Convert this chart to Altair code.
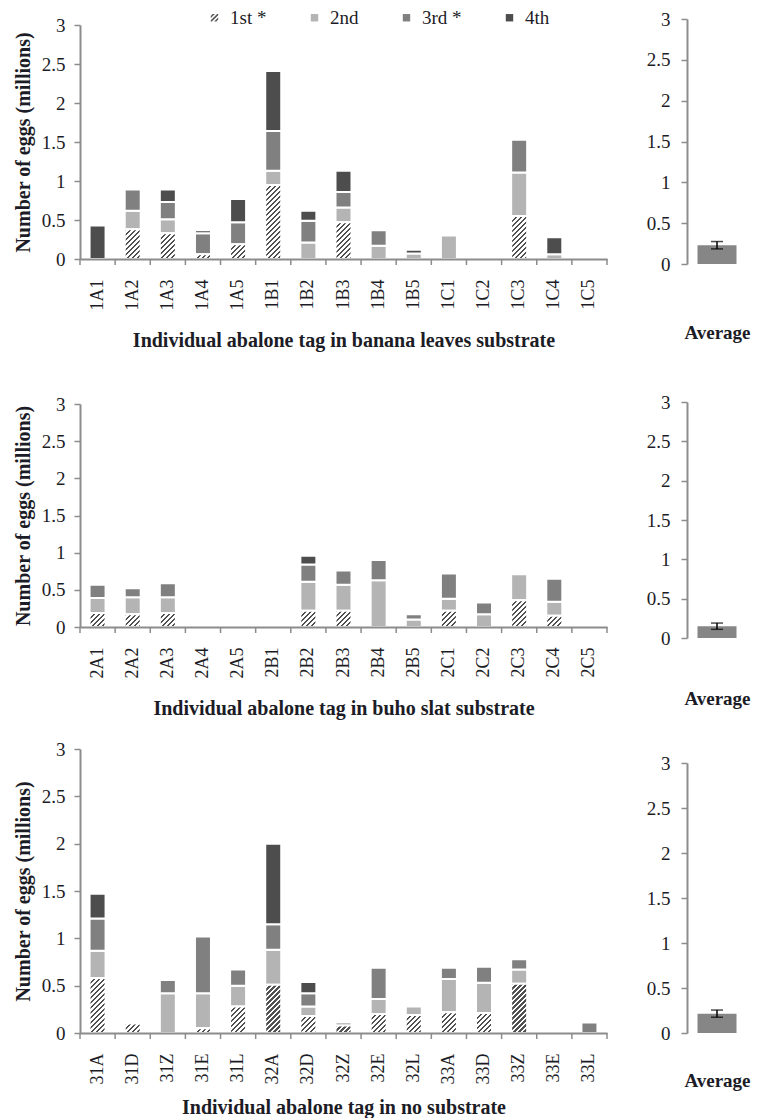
import altair as alt
import pandas as pd

# ---------------- data ----------------
SERIES = ["1st *", "2nd", "3rd *", "4th"]
SERIES_COLORS = ["#555555", "#b4b4b4", "#808080", "#4d4d4d"]

tags_banana = ["1A1", "1A2", "1A3", "1A4", "1A5", "1B1", "1B2", "1B3", "1B4", "1B5",
               "1C1", "1C2", "1C3", "1C4", "1C5"]
first_banana = [0, 0.38, 0.33, 0.06, 0.19, 0.95, 0, 0.47, 0, 0, 0, 0, 0.55, 0, 0]
second_banana = [0, 0.24, 0.18, 0, 0, 0.18, 0.21, 0.19, 0.17, 0.07, 0.30, 0, 0.56, 0.06, 0]
third_banana = [0, 0.27, 0.22, 0.27, 0.28, 0.51, 0.28, 0.20, 0.20, 0, 0, 0, 0.42, 0, 0]
fourth_banana = [0.43, 0, 0.16, 0.04, 0.30, 0.77, 0.13, 0.27, 0, 0.05, 0, 0, 0, 0.22, 0]

tags_buho = ["2A1", "2A2", "2A3", "2A4", "2A5", "2B1", "2B2", "2B3", "2B4", "2B5",
             "2C1", "2C2", "2C3", "2C4", "2C5"]
first_buho = [0.19, 0.17, 0.19, 0, 0, 0, 0.22, 0.22, 0, 0, 0.22, 0, 0.36, 0.15, 0]
second_buho = [0.20, 0.23, 0.21, 0, 0, 0, 0.39, 0.35, 0.63, 0.10, 0.16, 0.17, 0.35, 0.19, 0]
third_buho = [0.18, 0.12, 0.19, 0, 0, 0, 0.23, 0.19, 0.27, 0.07, 0.34, 0.16, 0, 0.31, 0]
fourth_buho = [0, 0, 0, 0, 0, 0, 0.12, 0, 0, 0, 0, 0, 0, 0, 0]

tags_none = ["31A", "31D", "31Z", "31E", "31L", "32A", "32D", "32Z", "32E", "32L",
             "33A", "33D", "33Z", "33E", "33L"]
first_none = [0.58, 0.10, 0, 0.05, 0.28, 0.51, 0.18, 0.08, 0.20, 0.19, 0.22, 0.21, 0.52, 0, 0]
second_none = [0.29, 0, 0.42, 0.37, 0.22, 0.37, 0.10, 0, 0.16, 0.09, 0.35, 0.32, 0.15, 0, 0]
third_none = [0.34, 0, 0.14, 0.60, 0.17, 0.27, 0.14, 0.03, 0.33, 0, 0.12, 0.17, 0.11, 0, 0.11]
fourth_none = [0.26, 0, 0, 0, 0, 0.85, 0.12, 0, 0, 0, 0, 0, 0, 0, 0]

AVG_LABEL = "Average"
avg_mean = [0.23, 0.15, 0.215]
avg_err = [0.045, 0.04, 0.04]

x_titles = ["Individual abalone tag in banana leaves substrate",
            "Individual abalone tag in buho slat substrate",
            "Individual abalone tag in no substrate"]
Y_TITLE = "Number of eggs (millions)"
Y_TICKS = [0, 0.5, 1, 1.5, 2, 2.5, 3]

# ---------------- style ----------------
FONT = "Liberation Serif"
TXT = "#1c1c26"
AX = "#8c8c8c"
AVG_COLOR = "#868686"
PLOT_W = 527
BAR_W = 16
HATCH_PATH = ("M-1,-0.5L-0.5,-1L0.1,-1L-1,0.1Z "
              "M-1,0.7L0.7,-1L1,-1L1,-0.7L-0.7,1L-1,1Z "
              "M-0.1,1L1,-0.1L1,0.5L0.5,1Z")


def stacked(tags, values):
    rows = []
    for i, t in enumerate(tags):
        base = 0.0
        for s, vals in zip(SERIES, values):
            v = vals[i]
            if v > 0:
                rows.append({"tag": t, "series": s, "value": v,
                             "y0": base, "y1": base + v})
                base += v
    return pd.DataFrame(rows)


def hatch(w, h, period=5.0, frac=0.42, dark="#505050", light="#ffffff"):
    """45-degree stripes as a linear gradient in bounding-box units."""
    n = (w + h) / period
    p = 1.0 / n
    stops = []
    k = 0
    while k * p < 1:
        a = k * p
        b = min(a + frac * p, 1.0)
        c = min((k + 1) * p, 1.0)
        stops += [{"offset": round(a, 5), "color": dark},
                  {"offset": round(b, 5), "color": dark},
                  {"offset": round(b, 5), "color": light},
                  {"offset": round(c, 5), "color": light}]
        k += 1
    d = w * w + h * h
    return {"gradient": "linear", "x1": 0, "y1": 0,
            "x2": round(w * (w + h) / d, 5), "y2": round(h * (w + h) / d, 5),
            "stops": stops}


def main_panel(tags, values, height, x_title, title_pad, show_legend):
    df = stacked(tags, values)
    xscale = alt.Scale(domain=tags, paddingInner=0, paddingOuter=0)
    xaxis = alt.Axis(title=x_title, labelAngle=-90, labelFontSize=18,
                     labelPadding=20, ticks=False, zindex=1,
                     titlePadding=title_pad)
    x = alt.X("tag:N", sort=tags, scale=xscale, axis=xaxis)
    yscale = alt.Scale(domain=[0, 3], nice=False)
    yaxis = alt.Axis(values=Y_TICKS, format="~g", title=Y_TITLE,
                     labelPadding=9, titlePadding=8, zindex=1)
    y = alt.Y("y1:Q", scale=yscale, axis=yaxis)
    y2 = alt.Y2("y0:Q")
    if show_legend:
        legend = alt.Legend(
            title=None, orient="none", legendX=125, legendY=-17,
            direction="horizontal", padding=0,
            symbolType={"expr": "datum.value === '1st *' ? '" + HATCH_PATH + "' : 'square'"},
            symbolSize=55, symbolStrokeWidth=0,
            labelFont=FONT, labelFontSize=19, labelColor=TXT,
            labelOffset=6, columnPadding=38)
    else:
        legend = None
    base = alt.Chart(df).transform_filter(
        alt.datum.series != SERIES[0]
    ).mark_bar(size=BAR_W, stroke="white", strokeWidth=2).encode(
        x=x, y=y, y2=y2,
        color=alt.Color("series:N",
                        scale=alt.Scale(domain=SERIES, range=SERIES_COLORS),
                        legend=legend))
    layers = [base]
    for _, r in df[df.series == SERIES[0]].iterrows():
        px_h = r["value"] * height / 3.0
        layers.append(
            alt.Chart(df).transform_filter(
                (alt.datum.tag == r["tag"]) & (alt.datum.series == SERIES[0])
            ).mark_bar(size=BAR_W, stroke="white", strokeWidth=2,
                       fill=hatch(BAR_W, px_h)).encode(x=x, y=y, y2=y2))
    # category separator ticks below the baseline (band edges)
    tick_df = pd.DataFrame({"tag": tags, "zero": [0] * len(tags)})
    for pos, src in ((0, tick_df), (1, tick_df.tail(1))):
        layers.append(
            alt.Chart(src).mark_rule(color=AX, strokeWidth=1.5, y2Offset=6).encode(
                x=alt.X("tag:N", sort=tags, scale=xscale, axis=xaxis,
                        bandPosition=pos),
                y=alt.Y("zero:Q", scale=yscale, axis=yaxis),
                y2=alt.Y2("zero:Q")))
    return alt.layer(*layers).properties(width=PLOT_W, height=height)


def avg_panel(i, height, y_range, title_pad, extra_line=0):
    d = pd.DataFrame({"label": [AVG_LABEL], "mean": [avg_mean[i]],
                      "lo": [avg_mean[i] - avg_err[i]],
                      "hi": [avg_mean[i] + avg_err[i]]})
    title = [AVG_LABEL, " "] if extra_line else AVG_LABEL
    axkw = dict(title=title, labels=False, ticks=False, domain=False,
                titlePadding=title_pad, titleFontSize=19)
    if extra_line:
        axkw["titleLineHeight"] = extra_line
    x = alt.X("label:N", scale=alt.Scale(paddingInner=0, paddingOuter=0),
              axis=alt.Axis(**axkw))
    ysc = alt.Scale(domain=[0, 3], range=y_range, nice=False)
    yax = alt.Axis(values=Y_TICKS, format="~g", title=None, labelPadding=11)
    bar = alt.Chart(d).mark_bar(size=39, color=AVG_COLOR).encode(
        x=x, y=alt.Y("mean:Q", scale=ysc, axis=yax))
    err = alt.Chart(d).mark_rule(color="black", strokeWidth=1.5).encode(
        x=x, y=alt.Y("lo:Q", scale=ysc, axis=yax), y2="hi:Q")
    cap_lo = alt.Chart(d).mark_tick(color="black", size=12, thickness=1.5,
                                    orient="horizontal").encode(
        x=x, y=alt.Y("lo:Q", scale=ysc, axis=yax))
    cap_hi = alt.Chart(d).mark_tick(color="black", size=12, thickness=1.5,
                                    orient="horizontal").encode(
        x=x, y=alt.Y("hi:Q", scale=ysc, axis=yax))
    return alt.layer(bar, err, cap_lo, cap_hi).properties(width=60, height=height)


row1 = alt.hconcat(
    main_panel(tags_banana, [first_banana, second_banana, third_banana, fourth_banana],
               234, x_titles[0], 21, True),
    avg_panel(0, 239, [239, -6], 59, extra_line=30),
    spacing=38).resolve_scale(color="independent")

row2 = alt.hconcat(
    main_panel(tags_buho, [first_buho, second_buho, third_buho, fourth_buho],
               223, x_titles[1], 21, False),
    avg_panel(1, 234, [234, -2], 51),
    spacing=38).resolve_scale(color="independent")

row3 = alt.hconcat(
    main_panel(tags_none, [first_none, second_none, third_none, fourth_none],
               284, x_titles[2], 14, False),
    avg_panel(2, 284, [284, 14], 38),
    spacing=38).resolve_scale(color="independent")

chart = alt.vconcat(row1, row2, row3, spacing=21).resolve_scale(
    color="independent"
).properties(
    padding={"left": 5, "top": 0, "right": 0, "bottom": 0}
).configure_view(stroke=None).configure_axis(
    domainColor=AX, domainWidth=2, tickColor=AX, tickWidth=1.5, tickSize=6,
    grid=False, labelFont=FONT, labelFontSize=19, labelColor=TXT,
    titleFont=FONT, titleFontSize=20, titleFontWeight="bold", titleColor=TXT
)

chart.save("out.html", embed_options={"renderer": "svg", "actions": False})
